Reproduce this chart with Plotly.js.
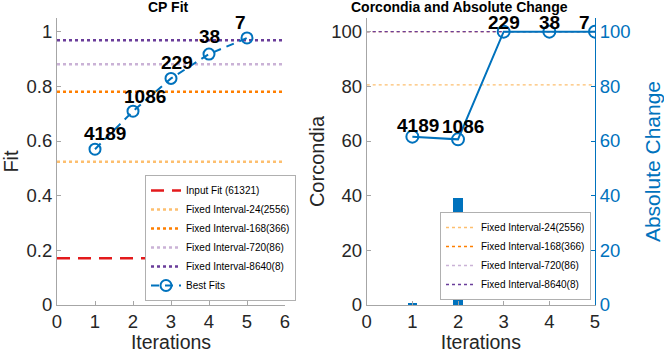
<!DOCTYPE html>
<html>
<head>
<meta charset="utf-8">
<script src="https://cdn.plot.ly/plotly-3.0.1.min.js"></script>
<style>html,body{margin:0;padding:0;background:#fff;}#chart{width:664px;height:353px;}</style>
</head>
<body>
<div id="chart"></div>
<script>
// ---- data ----
const iterations = [1, 2, 3, 4, 5];
const bestFit = [0.570, 0.709, 0.829, 0.918, 0.977];
const rankLabels = ['4189', '1086', '229', '38', '7'];
const inputFitName = 'Input Fit (61321)';
const inputFit = 0.171;
const intervalNames = ['Fixed Interval-24(2556)', 'Fixed Interval-168(366)', 'Fixed Interval-720(86)', 'Fixed Interval-8640(8)'];
const intervalFit = [0.524, 0.780, 0.881, 0.969];
const intervalCorcondia = [80.5, 100, 100, 100];
const corcondia = [0.6, 39, 0, 0, 0];
const absChange = [61.6, 60.6, 100, 100, 100];
const leftXRange = [0, 6];
const rightXRange = [0, 5];

// ---- styles (label pixel offsets, not data) ----
const leftLabelDX = [10, 12, 6, 0, -7];
const leftLabelDY = [16, 15, 16, 18, 15];
const rightLabelDX = [6, 5, 0, 0, -11];
const rightLabelDY = [11, 13, 9, 9, 9];
const FONT = 'Liberation Sans, Arial, Helvetica, sans-serif';
const intervalColors = ['#fdbf6f', '#ff7f00', '#cab2d6', '#6a3d9a'];
const BLUE = '#0072BD';
const W = 664, H = 353;
const px = v => v / W, py = v => (H - v) / H;

const traces = [];
traces.push({
  x: leftXRange, y: [inputFit, inputFit], xaxis: 'x', yaxis: 'y', mode: 'lines',
  name: inputFitName, line: {color: '#e31a1c', width: 2.5, dash: '13px,8px'}, legend: 'legend'
});
intervalNames.forEach((n, i) => {
  traces.push({
    x: leftXRange, y: [intervalFit[i], intervalFit[i]], xaxis: 'x', yaxis: 'y', mode: 'lines',
    name: n, line: {color: intervalColors[i], width: 2.5, dash: 'dot'}, legend: 'legend'
  });
});
traces.push({
  x: iterations, y: bestFit, xaxis: 'x', yaxis: 'y', mode: 'lines+markers', name: 'Best Fits',
  line: {color: BLUE, width: 2, dash: '8px,6px'},
  marker: {symbol: 'circle-open', size: 11, color: BLUE, line: {width: 2, color: BLUE}}, legend: 'legend'
});
// right subplot
intervalNames.forEach((n, i) => {
  traces.push({
    x: rightXRange, y: [intervalCorcondia[i], intervalCorcondia[i]], xaxis: 'x2', yaxis: 'y2', mode: 'lines',
    name: n, line: {color: intervalColors[i], width: 1.3, dash: 'dot'}, legend: 'legend2'
  });
});
traces.push({
  x: iterations, y: corcondia, xaxis: 'x2', yaxis: 'y2', type: 'bar', width: 0.2,
  marker: {color: BLUE}, showlegend: false, name: 'Corcondia'
});
traces.push({
  x: iterations, y: absChange, xaxis: 'x2', yaxis: 'y3', mode: 'lines+markers', showlegend: false,
  name: 'Absolute Change', line: {color: BLUE, width: 2},
  marker: {symbol: 'circle-open', size: 12, color: BLUE, line: {width: 2, color: BLUE}}
});

const tickFont = {family: FONT, size: 18.5, color: '#262626'};
const titleFont = {family: FONT, size: 19.5, color: '#262626'};
const axBase = {showgrid: false, zeroline: false, showline: true, linecolor: '#a6a6a6', linewidth: 1,
  ticks: 'inside', ticklen: 4, tickcolor: '#a6a6a6', tickfont: tickFont, automargin: false, fixedrange: true};

const yTop = py(18), yBot = py(305);
const annotations = [];
const headFont = {family: FONT, size: 14, color: '#000'};
annotations.push({text: '<b>CP Fit</b>', x: px(168), y: py(7), xref: 'paper', yref: 'paper', showarrow: false,
  xanchor: 'center', yanchor: 'middle', borderpad: 0, font: headFont});
annotations.push({text: '<b>Corcondia and Absolute Change</b>', x: px(460), y: py(7), xref: 'paper', yref: 'paper', showarrow: false,
  xanchor: 'center', yanchor: 'middle', borderpad: 0, font: headFont});
const labFont = {family: FONT, size: 19, color: '#000', weight: 'bold'};
iterations.forEach((it, i) => {
  annotations.push({text: rankLabels[i], x: it, y: bestFit[i], xref: 'x', yref: 'y', showarrow: false,
    xanchor: 'center', yanchor: 'middle', borderpad: 0, xshift: leftLabelDX[i], yshift: leftLabelDY[i], font: labFont});
  annotations.push({text: rankLabels[i], x: it, y: absChange[i], xref: 'x2', yref: 'y3', showarrow: false,
    xanchor: 'center', yanchor: 'middle', borderpad: 0, xshift: rightLabelDX[i], yshift: rightLabelDY[i], font: labFont});
});

const layout = {
  width: W, height: H, margin: {l: 0, r: 0, t: 0, b: 0},
  paper_bgcolor: '#fff', plot_bgcolor: 'rgba(0,0,0,0)',
  font: {family: FONT, color: '#262626'},
  xaxis: Object.assign({}, axBase, {domain: [px(57), px(285)], range: leftXRange, dtick: 1, tick0: 0, anchor: 'y',
    title: {text: 'Iterations', font: titleFont, standoff: 5}}),
  yaxis: Object.assign({}, axBase, {domain: [yBot, yTop], range: [0, 1.05], tickvals: [0, 0.2, 0.4, 0.6, 0.8, 1],
    ticktext: ['0', '0.2', '0.4', '0.6', '0.8', '1'], anchor: 'x',
    title: {text: 'Fit', font: {family: FONT, size: 20, color: '#262626'}, standoff: 12}}),
  xaxis2: Object.assign({}, axBase, {domain: [px(366.7), px(595)], range: rightXRange, dtick: 1, tick0: 0, anchor: 'y2',
    title: {text: 'Iterations', font: titleFont, standoff: 5}}),
  yaxis2: Object.assign({}, axBase, {domain: [yBot, yTop], range: [0, 105], tickvals: [0, 20, 40, 60, 80, 100], anchor: 'x2',
    title: {text: 'Corcondia', font: {family: FONT, size: 20, color: '#262626'}, standoff: 1}}),
  yaxis3: Object.assign({}, axBase, {overlaying: 'y2', side: 'right', anchor: 'x2', range: [0, 105],
    tickvals: [0, 20, 40, 60, 80, 100], linecolor: BLUE, tickcolor: BLUE,
    tickfont: {family: FONT, size: 18.5, color: BLUE},
    title: {text: 'Absolute Change', font: {family: FONT, size: 21, color: BLUE}, standoff: 15}}),
  showlegend: true,
  legend: {x: px(145), y: py(301), xanchor: 'left', yanchor: 'bottom', bgcolor: '#fff',
    bordercolor: '#b0b0b0', borderwidth: 1, font: {family: FONT, size: 10, color: '#000'},
    itemwidth: 30, tracegroupgap: 0},
  legend2: {x: px(591), y: py(300), xanchor: 'right', yanchor: 'bottom', bgcolor: '#fff',
    bordercolor: '#b0b0b0', borderwidth: 1, font: {family: FONT, size: 10, color: '#000'},
    itemwidth: 30, tracegroupgap: 0},
  annotations: annotations,
  bargap: 0
};

Plotly.newPlot('chart', traces, layout, {displayModeBar: false, staticPlot: true});
</script>
</body>
</html>
